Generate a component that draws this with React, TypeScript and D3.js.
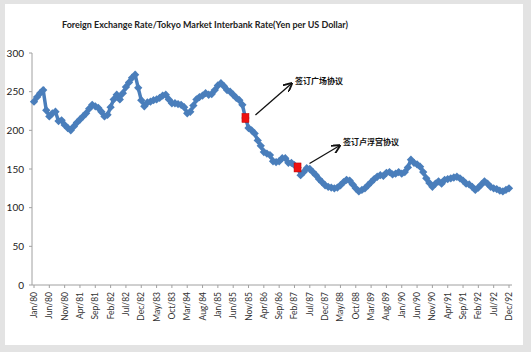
import React from 'react';
import * as d3 from 'd3';

// monthly yen per US dollar, Jan/80 .. Dec/92
const rate80 = [237, 243, 248, 252, 226, 218, 222, 224, 212, 213, 207, 203];
const rate81 = [200, 205, 210, 214, 218, 222, 228, 233, 231, 229, 224, 218];
const rate82 = [220, 230, 240, 246, 240, 248, 256, 262, 268, 272, 255, 239];
const rate83 = [231, 236, 237, 239, 240, 242, 245, 246, 240, 235, 235, 234];
const rate84 = [233, 230, 222, 224, 232, 240, 243, 245, 248, 246, 247, 252];
const rate85 = [258, 261, 257, 252, 250, 246, 242, 239, 233, 216, 203, 200];
const rate86 = [196, 187, 180, 172, 170, 168, 160, 159, 160, 164, 164, 158];
const rate87 = [158, 155, 152, 142, 146, 151, 150, 146, 142, 137, 133, 129];
const rate88 = [127, 126, 125, 126, 129, 133, 136, 135, 130, 125, 121, 123];
const rate89 = [125, 129, 133, 137, 140, 142, 141, 145, 146, 143, 144, 146];
const rate90 = [144, 146, 152, 162, 158, 156, 153, 146, 138, 132, 127, 131];
const rate91 = [134, 131, 136, 137, 138, 139, 140, 138, 135, 131, 130, 127];
const rate92 = [123, 126, 130, 134, 131, 127, 125, 124, 122, 121, 123, 125];

const rates = [
  ...rate80, ...rate81, ...rate82, ...rate83, ...rate84, ...rate85, ...rate86,
  ...rate87, ...rate88, ...rate89, ...rate90, ...rate91, ...rate92,
];

const monthNames = ['Jan', 'Feb', 'Mar', 'Apr', 'May', 'Jun', 'Jul', 'Aug', 'Sep', 'Oct', 'Nov', 'Dec'];
const labelStep = 5;
const yTicks = [0, 50, 100, 150, 200, 250, 300];

// the two agreements, as month index
const plazaIdx = 69;
const louvreIdx = 86;
const plazaText = '签订广场协议';
const louvreText = '签订卢浮宫协议';

const title = 'Foreign Exchange Rate/Tokyo Market Interbank Rate(Yen per US Dollar)';

const W = 531;
const H = 352;

export default function App() {
  const x = d3.scaleLinear().domain([0, rates.length - 1]).range([34, 509]);
  const y = d3.scaleLinear().domain([0, 300]).range([285, 53]);

  const line = d3
    .line<number>()
    .x((_, i) => x(i))
    .y((d) => y(d));

  const diamond = d3.symbol().type(d3.symbolDiamond2).size(44)() as string;

  const tickIdx = d3.range(0, rates.length, labelStep);
  const label = (i: number) =>
    `${monthNames[i % 12]}/${String(80 + Math.floor(i / 12))}`;

  const blue = '#4a7ebb';
  const axisColor = '#a0a0a0';
  const font = 'Lato, "Open Sans", sans-serif';
  const cjk = '"Noto Sans CJK SC", sans-serif';

  return (
    <div style={{ position: 'fixed', left: 0, top: 0 }}>
      <svg width={W} height={H} style={{ display: 'block' }}>
        <defs>
          <marker id="arr" viewBox="0 0 10 10" refX="8" refY="5" markerWidth="7" markerHeight="7" orient="auto">
            <path d="M0,0 L10,5 L0,10" fill="none" stroke="#111" strokeWidth={2} />
          </marker>
        </defs>
        <rect x={0} y={0} width={W} height={H} fill="#e3e3e3" />
        <rect x={5} y={4} width={518} height={341} fill="#ffffff" />

        <text x={205} y={28} textAnchor="middle" fontFamily={font} fontWeight="bold" fontSize={10} fill="#222"
          textLength={286} lengthAdjust="spacingAndGlyphs">
          {title}
        </text>

        {/* y axis */}
        <line x1={32} x2={32} y1={y(300)} y2={y(0)} stroke={axisColor} />
        {yTicks.map((t) => (
          <g key={t}>
            <line x1={29} x2={32} y1={y(t)} y2={y(t)} stroke={axisColor} />
            <text x={24} y={y(t)} dy="0.35em" textAnchor="end" fontFamily={font} fontSize={10} fill="#222">
              {t}
            </text>
          </g>
        ))}

        {/* x axis */}
        <line x1={32} x2={512} y1={y(0)} y2={y(0)} stroke={axisColor} />
        {tickIdx.map((i) => (
          <g key={i}>
            <line x1={x(i)} x2={x(i)} y1={y(0)} y2={y(0) + 3} stroke={axisColor} />
            <text
              transform={`translate(${x(i) + 3},${y(0) + 7}) rotate(-90)`}
              textAnchor="end"
              fontFamily={font}
              fontSize={8.5}
              fill="#333"
            >
              {label(i)}
            </text>
          </g>
        ))}

        {/* series */}
        <path d={line(rates) as string} fill="none" stroke={blue} strokeWidth={3.5} />
        {rates.map((v, i) => (
          <path key={i} d={diamond} transform={`translate(${x(i)},${y(v)})`} fill={blue} />
        ))}

        {/* agreements */}
        {[plazaIdx, louvreIdx].map((i) => (
          <rect key={i} x={x(i) - 3.5} y={y(rates[i]) - 4.5} width={7} height={9} fill="#ee1111" stroke="#b00" strokeWidth={0.5} />
        ))}
        <line x1={x(plazaIdx) + 10} y1={y(rates[plazaIdx]) - 3} x2={291} y2={84} stroke="#111" strokeWidth={1.3} markerEnd="url(#arr)" />
        <text x={295} y={84} fontFamily={cjk} fontWeight="bold" fontSize={8} fill="#111">{plazaText}</text>
        <line x1={x(louvreIdx) + 12} y1={y(rates[louvreIdx]) - 4} x2={339} y2={146} stroke="#111" strokeWidth={1.3} markerEnd="url(#arr)" />
        <text x={343} y={145} fontFamily={cjk} fontWeight="bold" fontSize={8} fill="#111">{louvreText}</text>
      </svg>
    </div>
  );
}
